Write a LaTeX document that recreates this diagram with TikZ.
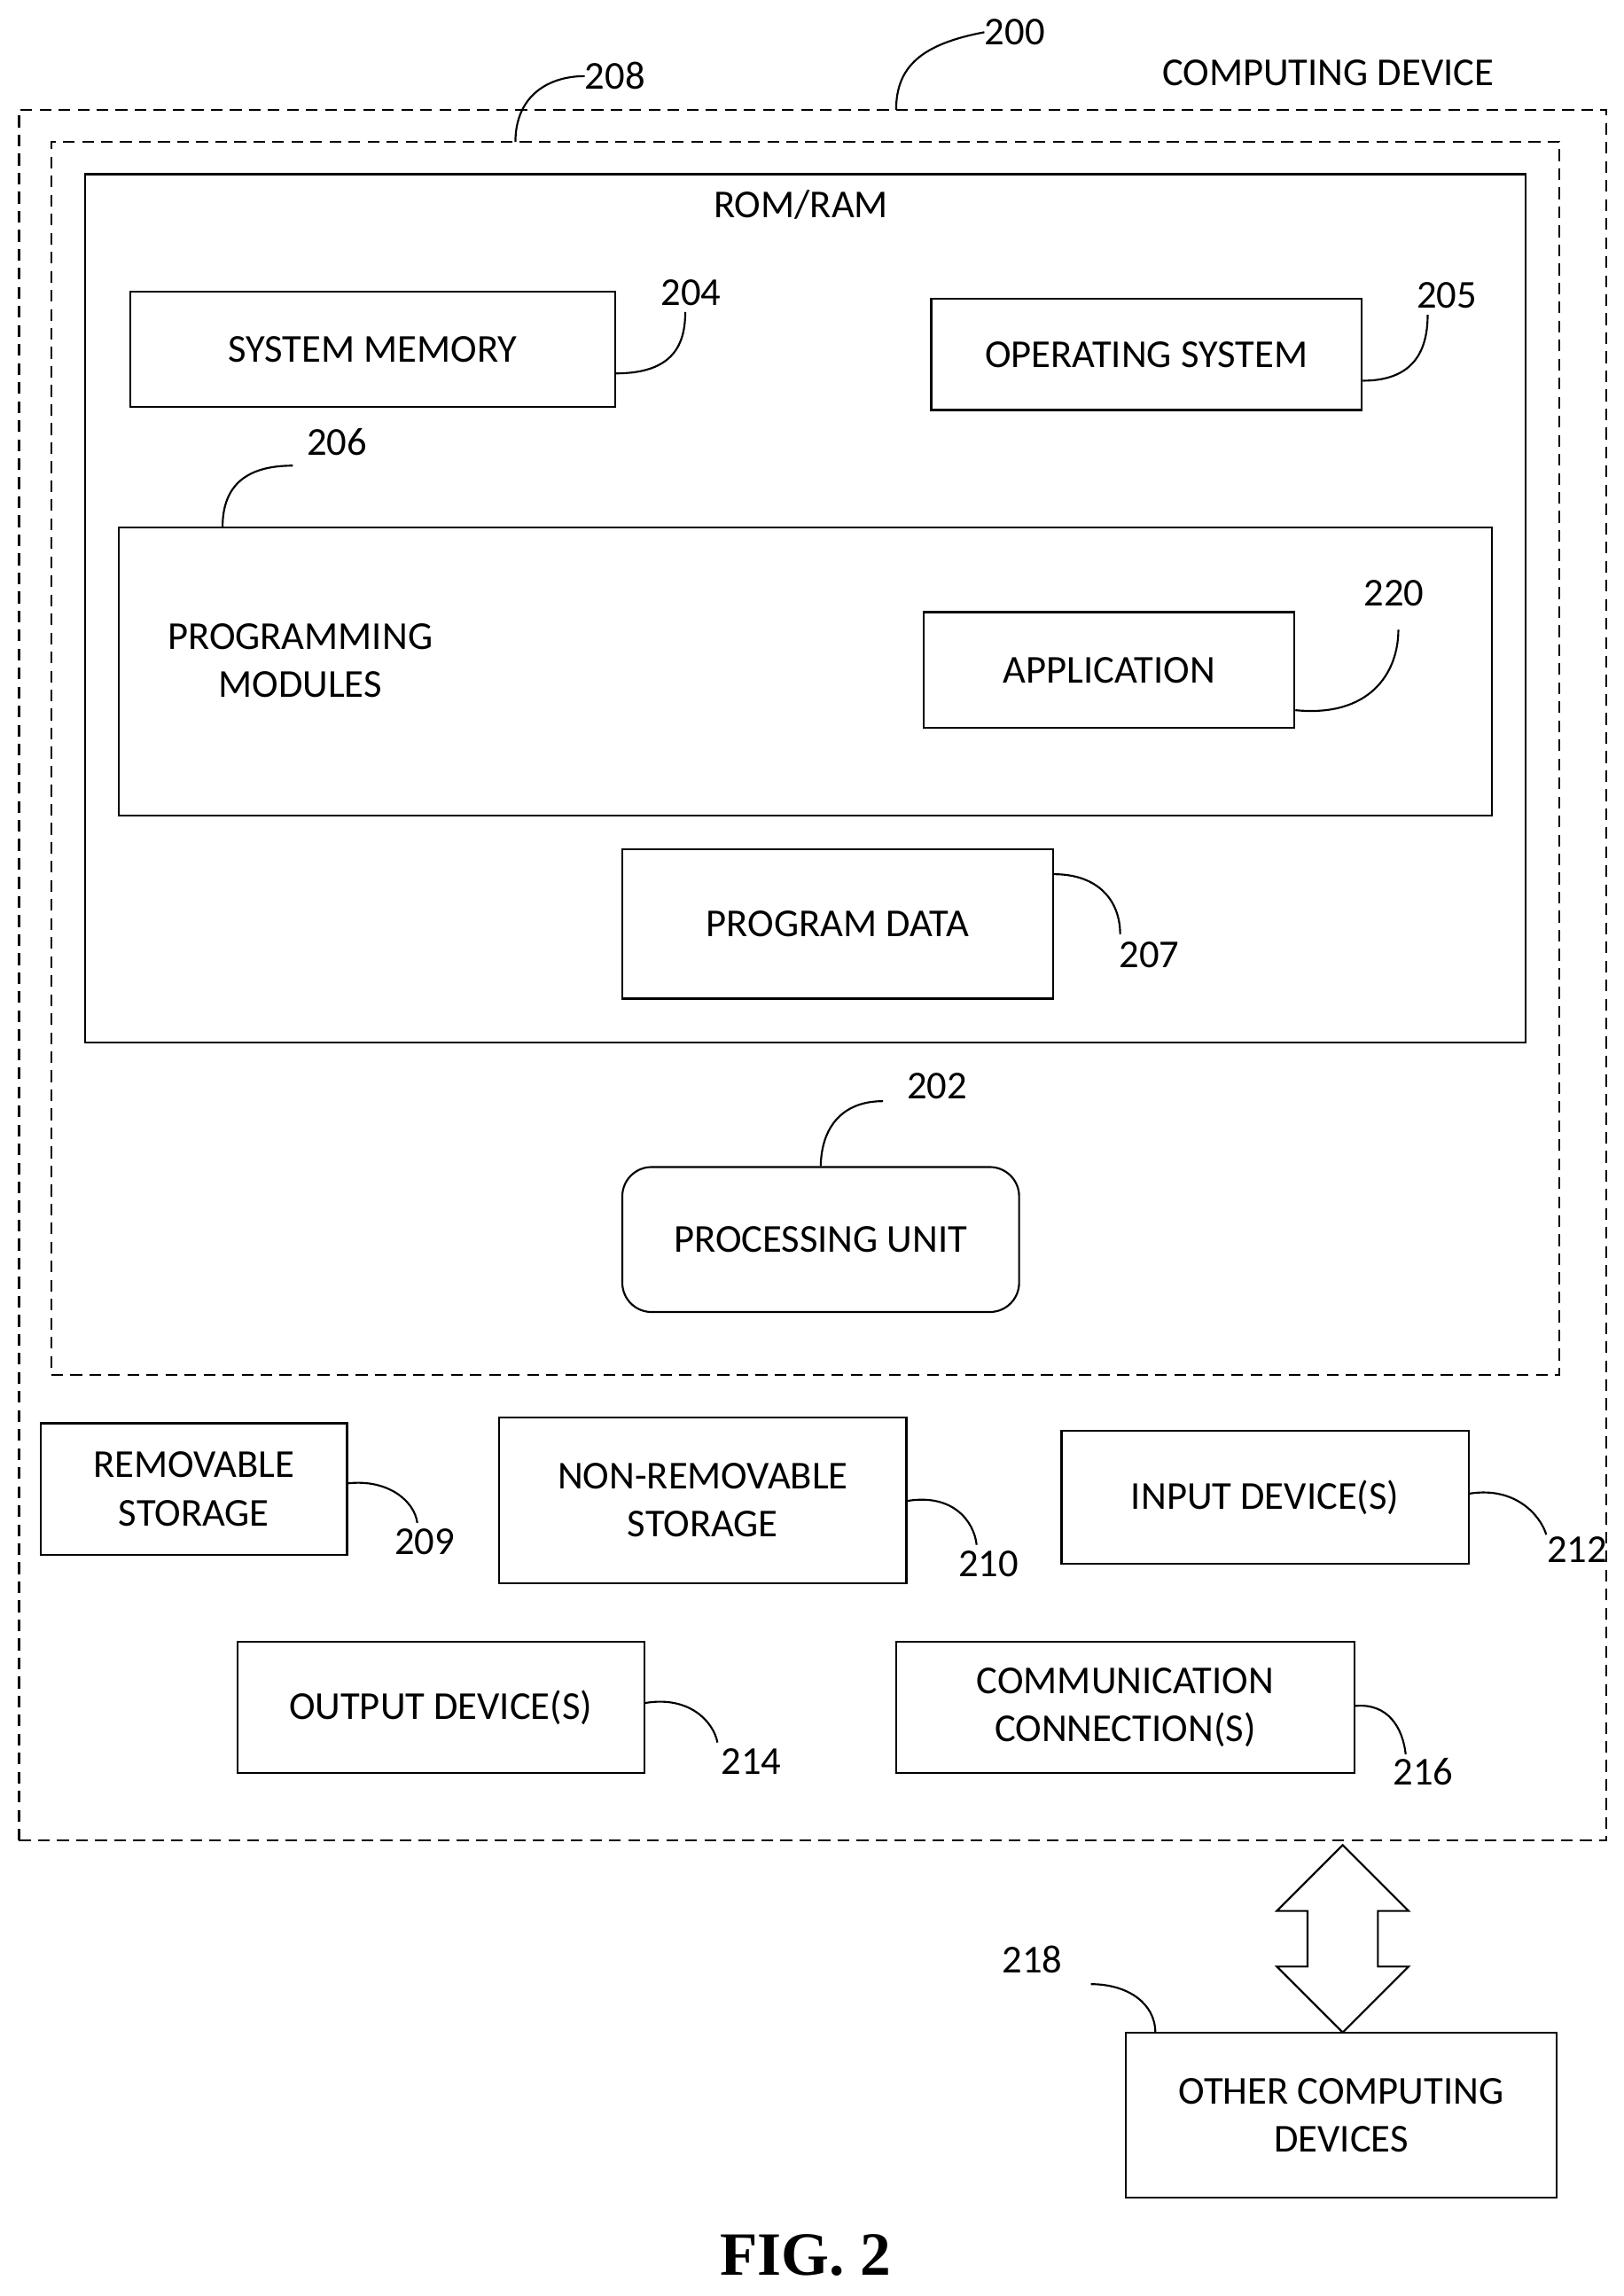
\documentclass[tikz,border=0pt]{standalone}
\usepackage{fontspec}
\setmainfont{Carlito}
\usetikzlibrary{positioning}
\tikzset{
  box/.style={draw, line width=1.3pt, inner sep=0pt, align=center, font=\fontsize{27}{33}\selectfont},
  dashbox/.style={draw, line width=1.3pt, dash pattern=on 8pt off 5pt},
  lbl/.style={inner sep=0pt, font=\fontsize{27}{33}\selectfont},
  lead/.style={line width=1.3pt}
}
\begin{document}
\begin{tikzpicture}[x=1pt,y=-1pt]
\useasboundingbox (0,0) rectangle (1109,1568);
% frames
\node (dev) [dashbox, minimum width=1084pt, minimum height=1182pt] at (555,666) {};
\node (mem) [dashbox, minimum width=1030pt, minimum height=842pt] at (550,518) {};
\node (romram) [box, minimum width=984pt, minimum height=593pt] at (550,415.5) {};
\node (romramtxt) [lbl] at (547,140) {ROM/RAM};
\node (devtxt) [lbl] at (907,50) {COMPUTING DEVICE};
% boxes
\node (sysmem) [box, minimum width=331pt, minimum height=79pt] at (254.5,238.5) {SYSTEM MEMORY};
\node (os) [box, minimum width=294pt, minimum height=76pt] at (783,242) {OPERATING SYSTEM};
\node (progmod) [box, minimum width=938pt, minimum height=197pt] at (550,458.5) {};
\node (progmodtxt) [lbl, align=center] at (205,451) {PROGRAMMING\\MODULES};
\node (app) [box, minimum width=253pt, minimum height=79pt] at (757.5,457.5) {APPLICATION};
\node (progdata) [box, minimum width=294pt, minimum height=102pt] at (572,631) {PROGRAM DATA};
\node (pu) [box, rounded corners=20pt, minimum width=271pt, minimum height=99pt] at (560.5,846.5) {PROCESSING UNIT};
\node (rem) [box, minimum width=209pt, minimum height=90pt] at (132.5,1017) {REMOVABLE\\STORAGE};
\node (nonrem) [box, minimum width=278pt, minimum height=113pt] at (480,1024.5) {NON-REMOVABLE\\STORAGE};
\node (input) [box, minimum width=278pt, minimum height=91pt] at (864,1022.5) {INPUT DEVICE(S)};
\node (output) [box, minimum width=278pt, minimum height=90pt] at (301,1166) {OUTPUT DEVICE(S)};
\node (comm) [box, minimum width=313pt, minimum height=90pt] at (768.5,1166) {COMMUNICATION\\CONNECTION(S)};
\node (other) [box, minimum width=294pt, minimum height=113pt] at (916,1444.5) {OTHER COMPUTING\\DEVICES};
% double arrow
\draw [line width=1.3pt] (917,1260) -- (962,1305) -- (941,1305) -- (941,1343) -- (962,1343) -- (917,1388)
  -- (872,1343) -- (893,1343) -- (893,1305) -- (872,1305) -- cycle;
% reference numbers
\node (n200) [lbl] at (693,22) {200};
\node (n208) [lbl] at (420,52) {208};
\node (n204) [lbl] at (472,200) {204};
\node (n205) [lbl] at (988,202) {205};
\node (n206) [lbl] at (230,302) {206};
\node (n220) [lbl] at (952,405) {220};
\node (n207) [lbl] at (785,652) {207};
\node (n202) [lbl] at (640,742) {202};
\node (n209) [lbl] at (290,1053) {209};
\node (n210) [lbl] at (675,1068) {210};
\node (n212) [lbl] at (1077,1058) {212};
\node (n214) [lbl] at (513,1203) {214};
\node (n216) [lbl] at (972,1210) {216};
\node (n218) [lbl] at (705,1338) {218};
% leaders
\draw [lead] (612,75) .. controls (612,45) and (630,30) .. (n200.west);
\draw [lead] (352,97) .. controls (352,65) and (375,52) .. (n208.west);
\draw [lead] (sysmem.east |- 0,255) .. controls (460,255) and (468,235) .. (468,213);
\draw [lead] (os.east |- 0,260) .. controls (965,260) and (975,240) .. (975,215);
\draw [lead] (152,360) .. controls (152,330) and (170,318) .. (200,318);
\draw [lead] (app.east |- 0,485) .. controls (935,490) and (955,460) .. (955,430);
\draw [lead] (progdata.east |- 0,597) .. controls (750,597) and (765,615) .. (765,638);
\draw [lead] (pu.north) .. controls (561,770) and (575,752) .. (603,752);
\draw [lead] (rem.east |- 0,1013) .. controls (265,1010) and (283,1025) .. (285,1040);
\draw [lead] (nonrem.east |- 0,1025) .. controls (650,1020) and (665,1038) .. (667,1055);
\draw [lead] (input.east |- 0,1020) .. controls (1035,1015) and (1052,1035) .. (1056,1048);
\draw [lead] (output.east |- 0,1163) .. controls (470,1158) and (487,1175) .. (490,1190);
\draw [lead] (comm.east |- 0,1165) .. controls (948,1163) and (958,1180) .. (960,1198);
\draw [lead] (789,1388) .. controls (789,1368) and (770,1355) .. (745,1355);
% caption
\node (fig) [inner sep=0pt, font=\fontspec{Liberation Serif}\bfseries\fontsize{42}{48}\selectfont] at (550,1540) {FIG. 2};
\end{tikzpicture}
\end{document}
